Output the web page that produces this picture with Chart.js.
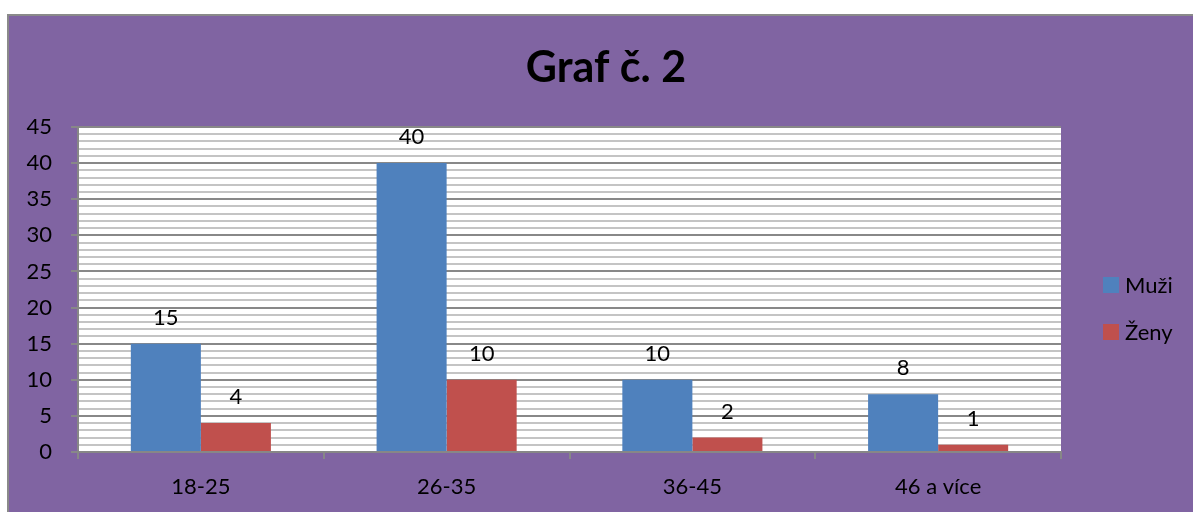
<!DOCTYPE html>
<html><head><meta charset="utf-8">
<script src="https://cdn.jsdelivr.net/npm/chart.js@4"></script>
<style>html,body{margin:0;padding:0;background:#fff;overflow:hidden}#wrap{position:absolute;left:0;top:0;width:1193px;height:512px}</style>
</head><body><div id="wrap"><canvas id="c" width="1193" height="512"></canvas></div>
<script>
const chartTitle = 'Graf č. 2';
const categories = ['18-25', '26-35', '36-45', '46 a více'];
const seriesNames = ['Muži', 'Ženy'];
const muzi = [15, 40, 10, 8];
const zeny = [4, 10, 2, 1];
const FONT = 'Lato, "Open Sans", sans-serif';

const bgPlugin = {
  id: 'bg',
  beforeDraw(chart) {
    const c = chart.ctx, a = chart.chartArea;
    c.save();
    c.fillStyle = '#ffffff'; c.fillRect(0, 0, chart.width, chart.height);
    c.fillStyle = '#8a8a8a'; c.fillRect(7, 14, chart.width - 7, chart.height - 14);
    c.fillStyle = '#8064a2'; c.fillRect(9, 16, chart.width - 9, chart.height - 16);
    c.fillStyle = '#ffffff'; c.fillRect(a.left, a.top, a.right - a.left, a.bottom - a.top);
    // title
    c.fillStyle = '#000'; c.font = 'bold 43px ' + FONT;
    c.textAlign = 'center'; c.textBaseline = 'middle';
    c.fillText(chartTitle, 606, 68);
    // legend
    c.font = '22px ' + FONT; c.textAlign = 'left';
    chart.data.datasets.forEach((ds, i) => {
      const y = 285 + i * 47;
      c.fillStyle = ds.backgroundColor; c.fillRect(1103, y - 8, 16, 16);
      c.fillStyle = '#000'; c.fillText(ds.label, 1125, y + 1);
    });
    c.restore();
  },
  afterDatasetsDraw(chart) {
    const c = chart.ctx;
    c.save();
    c.fillStyle = '#000'; c.font = '22px ' + FONT;
    c.textAlign = 'center'; c.textBaseline = 'middle';
    chart.data.datasets.forEach((ds, i) => {
      chart.getDatasetMeta(i).data.forEach((el, j) => {
        c.fillText(String(ds.data[j]), el.x, el.y - 26);
      });
    });
    c.restore();
  }
};

new Chart(document.getElementById('c'), {
  type: 'bar',
  data: {
    labels: categories,
    datasets: [
      { label: seriesNames[0], data: muzi, backgroundColor: '#4f81bd' },
      { label: seriesNames[1], data: zeny, backgroundColor: '#c0504d' }
    ]
  },
  options: {
    responsive: false, animation: false,
    devicePixelRatio: 1,
    layout: { padding: { left: 0, top: 127, right: 132, bottom: 0 } },
    plugins: { legend: { display: false }, title: { display: false }, tooltip: { enabled: false } },
    datasets: { bar: { categoryPercentage: 0.57, barPercentage: 1.0 } },
    scales: {
      x: {
        grid: { offset: true, drawOnChartArea: false, tickLength: 7, color: '#878787', lineWidth: 2 },
        border: { color: '#878787', width: 2 },
        ticks: { font: { size: 22, family: FONT }, color: '#000', padding: 15 },
        afterFit(s) { s.height = 60; }
      },
      y: {
        min: 0, max: 45,
        grid: {
          tickLength: 7,
          color: ctx => (ctx.tick && ctx.tick.value % 5 === 0) ? '#888888' : '#c4c4c4',
          tickColor: ctx => (ctx.tick && ctx.tick.value % 5 === 0) ? '#888888' : 'rgba(0,0,0,0)',
          lineWidth: 2
        },
        border: { color: '#878787', width: 2 },
        ticks: {
          stepSize: 1, autoSkip: false, color: '#000', padding: 19,
          font: { size: 22, family: FONT },
          callback: v => (v % 5 === 0 ? String(v) : '')
        },
        afterFit(s) { s.width = 78; }
      }
    }
  },
  plugins: [bgPlugin]
});
</script></body></html>
